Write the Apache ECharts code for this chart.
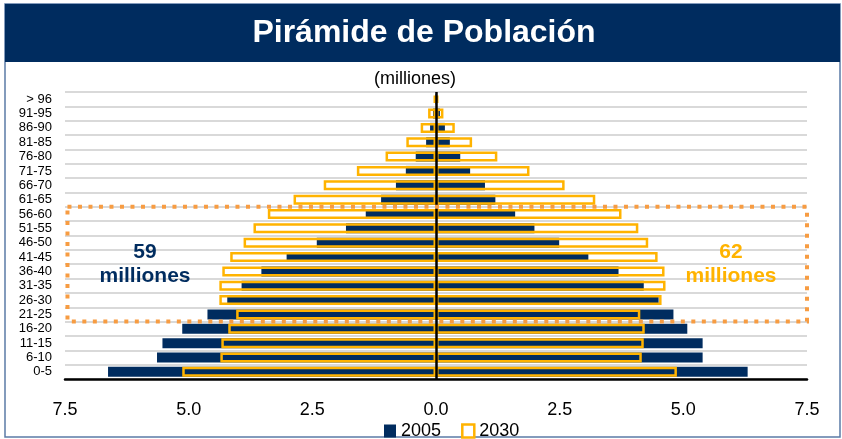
<!DOCTYPE html>
<html>
<head>
<meta charset="utf-8">
<script src="https://cdn.jsdelivr.net/npm/echarts@6/dist/echarts.min.js"></script>
<style>
  html, body { margin: 0; padding: 0; background: #fff; }
  #chart { width: 842px; height: 439px; }
</style>
</head>
<body>
<div id="chart"></div>
<script>
// grupos de edad, de abajo hacia arriba
const categories = ['0-5', '6-10', '11-15', '16-20', '21-25', '26-30', '31-35', '36-40', '41-45', '46-50',
  '51-55', '56-60', '61-65', '66-70', '71-75', '76-80', '81-85', '86-90', '91-95', '> 96']

// millones (lado izquierdo / lado derecho)
const left2005 = [6.63, 5.64, 5.53, 5.13, 4.62, 4.22, 3.93, 3.53, 3.02, 2.41, 1.82, 1.42, 1.11, 0.81, 0.61, 0.41, 0.2, 0.12, 0.06, 0.01]
const right2005 = [6.3, 5.39, 5.39, 5.08, 4.8, 4.5, 4.2, 3.69, 3.08, 2.49, 1.99, 1.6, 1.2, 0.99, 0.69, 0.49, 0.28, 0.18, 0.08, 0.02]
const left2030 = [5.13, 4.36, 4.34, 4.2, 4.04, 4.38, 4.38, 4.32, 4.16, 3.89, 3.69, 3.4, 2.88, 2.27, 1.6, 1.02, 0.6, 0.31, 0.16, 0.05]
const right2030 = [4.87, 4.16, 4.2, 4.22, 4.13, 4.56, 4.64, 4.62, 4.48, 4.29, 4.09, 3.75, 3.22, 2.6, 1.89, 1.24, 0.73, 0.38, 0.15, 0.05]

const xTicks = { min: -7.5, max: 7.5, interval: 2.5 }

const NAVY = '#002C5F'
const GOLD = '#FFB300'
const DOTS = '#F79C42'
const FONT = 'Liberation Sans, Arial, sans-serif'

const chart = echarts.init(document.getElementById('chart'))

const navyStyle = { color: NAVY }
const goldStyle = { color: 'rgba(0,0,0,0)', borderColor: GOLD, borderWidth: 2.5 }

chart.setOption({
  animation: false,
  textStyle: { fontFamily: FONT },
  grid: { left: 65, right: 35, top: 92, bottom: 60 },
  legend: {
    left: 379,
    top: 417,
    itemWidth: 12,
    itemHeight: 13,
    itemGap: 20,
    textStyle: { fontSize: 18, color: '#000', fontFamily: FONT },
    data: [
      { name: '2005', icon: 'rect', itemStyle: navyStyle },
      { name: '2030', icon: 'rect', itemStyle: { color: '#fff', borderColor: GOLD, borderWidth: 2.5 } }
    ]
  },
  xAxis: {
    type: 'value',
    min: xTicks.min,
    max: xTicks.max,
    interval: xTicks.interval,
    axisLine: { show: true, lineStyle: { color: '#000', width: 2.5 } },
    axisTick: { show: false },
    splitLine: { show: false },
    axisLabel: {
      fontSize: 18,
      color: '#000',
      margin: 22,
      formatter: v => Math.abs(v).toFixed(1)
    }
  },
  yAxis: {
    type: 'category',
    data: categories,
    axisLine: { show: false },
    axisTick: { show: false },
    splitLine: { show: true, interval: 0, lineStyle: { color: '#cdcdcd', width: 1.5 } },
    axisLabel: { fontSize: 13, color: '#000', margin: 13, interval: 0 }
  },
  series: [
    {
      name: '2005', type: 'bar', barWidth: 10, barGap: '-100%',
      itemStyle: navyStyle, data: left2005.map(v => -v)
    },
    {
      name: '2005', type: 'bar', barWidth: 10, barGap: '-100%',
      itemStyle: navyStyle, data: right2005
    },
    {
      name: '2030', type: 'bar', barWidth: 10, barGap: '-100%',
      itemStyle: goldStyle, data: left2030.map(v => -v)
    },
    {
      name: '2030', type: 'bar', barWidth: 10, barGap: '-100%',
      itemStyle: goldStyle, data: right2030,
      markLine: {
        silent: true,
        symbol: 'none',
        label: { show: false },
        lineStyle: { color: '#000', width: 2.5, type: 'solid' },
        data: [{ xAxis: 0 }]
      }
    }
  ]
})

// recuadro punteado sobre los grupos 21-25 ... 56-60
const yLow = chart.convertToPixel({ yAxisIndex: 0 }, '21-25')
const yHigh = chart.convertToPixel({ yAxisIndex: 0 }, '56-60')
const band = (yLow - yHigh) / 7
const xL = chart.convertToPixel({ xAxisIndex: 0 }, -7.45)
const xR = chart.convertToPixel({ xAxisIndex: 0 }, 7.5)

chart.setOption({
  graphic: [
    {
      type: 'rect', z: -1,
      shape: { x: 5, y: 4, width: 835, height: 433 },
      style: { fill: '#fff', stroke: '#5B7BA6', lineWidth: 1.5 }
    },
    {
      type: 'rect', z: 0,
      shape: { x: 5, y: 4, width: 835, height: 58 },
      style: { fill: NAVY }
    },
    {
      type: 'text', z: 1, x: 424, y: 33,
      style: {
        text: 'Pirámide de Población', fill: '#fff', font: 'bold 32px ' + FONT,
        textAlign: 'center', textVerticalAlign: 'middle'
      }
    },
    {
      type: 'text', x: 415, y: 79,
      style: {
        text: '(milliones)', fill: '#000', font: '18px ' + FONT,
        textAlign: 'center', textVerticalAlign: 'middle'
      }
    },
    {
      type: 'rect', z: 50,
      shape: { x: xL, y: yHigh - band / 2, width: xR - xL, height: yLow - yHigh + band },
      style: { fill: 'none', stroke: DOTS, lineWidth: 4, lineDash: [4, 6.5] }
    },
    {
      type: 'text', z: 50, x: 145, y: 264,
      style: {
        text: '59\nmilliones', fill: NAVY, font: 'bold 21px ' + FONT, lineHeight: 24,
        textAlign: 'center', textVerticalAlign: 'middle'
      }
    },
    {
      type: 'text', z: 50, x: 731, y: 264,
      style: {
        text: '62\nmilliones', fill: GOLD, font: 'bold 21px ' + FONT, lineHeight: 24,
        textAlign: 'center', textVerticalAlign: 'middle'
      }
    }
  ]
})
</script>
</body>
</html>
